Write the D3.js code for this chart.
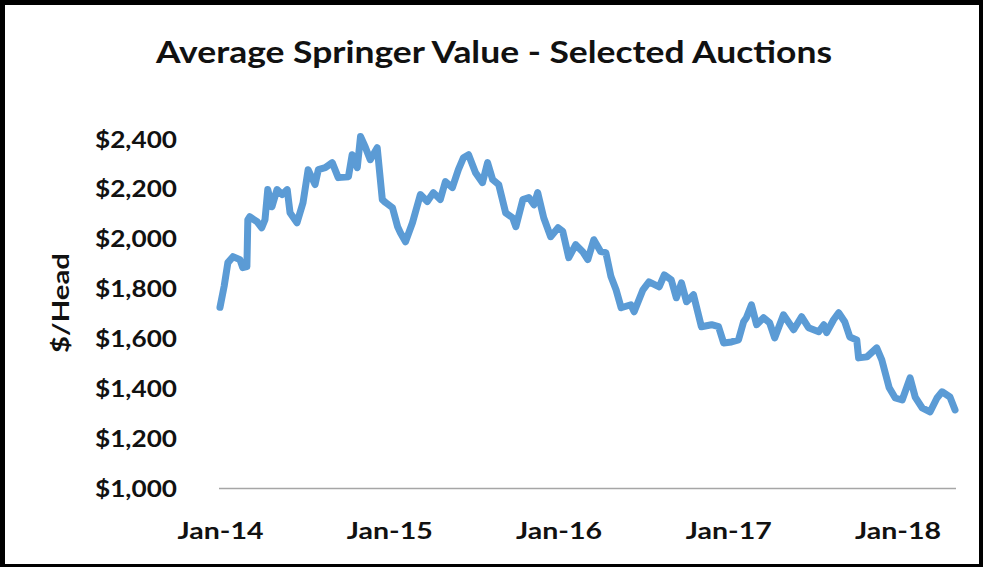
<!DOCTYPE html>
<html>
<head>
<meta charset="utf-8">
<script src="https://cdn.jsdelivr.net/npm/d3@7"></script>
<style>
  html, body { margin: 0; padding: 0; background: #fff; }
  svg { display: block; }
  text { font-family: Lato, "Open Sans", sans-serif; font-weight: bold; fill: #111; }
</style>
</head>
<body>
<script>
// ---------- DATA ----------
const title = "Average Springer Value - Selected Auctions";
const yAxisTitle = "$/Head";
const yTicks = [1000, 1200, 1400, 1600, 1800, 2000, 2200, 2400];
const xTickLabels = ["Jan-14", "Jan-15", "Jan-16", "Jan-17", "Jan-18"];
const xTickDates = ["2014-01-01", "2015-01-01", "2016-01-01", "2017-01-01", "2018-01-01"];

const dates = [
  "2014-01-01","2014-01-10","2014-01-18","2014-01-29","2014-02-13","2014-02-19","2014-02-28","2014-03-02","2014-03-06","2014-03-22",
  "2014-04-01","2014-04-08","2014-04-14","2014-04-23","2014-05-04","2014-05-15","2014-05-26","2014-06-01","2014-06-16","2014-06-29",
  "2014-07-10","2014-07-25","2014-08-01","2014-08-16","2014-08-31","2014-09-13","2014-10-05","2014-10-13","2014-10-24","2014-10-31",
  "2014-11-10","2014-11-21","2014-12-06","2014-12-17","2014-12-24","2015-01-08","2015-01-19","2015-01-25","2015-02-05","2015-02-20",
  "2015-03-09","2015-03-24","2015-04-06","2015-04-21","2015-05-02","2015-05-17","2015-05-30","2015-06-10","2015-06-21","2015-07-06",
  "2015-07-21","2015-08-01","2015-08-12","2015-08-25","2015-09-09","2015-09-24","2015-10-01","2015-10-16","2015-10-29","2015-11-09",
  "2015-11-17","2015-11-30","2015-12-15","2015-12-31","2016-01-10","2016-01-23","2016-02-07","2016-02-22","2016-03-04","2016-03-17",
  "2016-04-01","2016-04-12","2016-04-23","2016-05-04","2016-05-15","2016-06-05","2016-06-12","2016-07-01","2016-07-14","2016-08-05",
  "2016-08-16","2016-08-31","2016-09-11","2016-09-22","2016-10-03","2016-10-18","2016-11-04","2016-11-26","2016-12-11","2016-12-22",
  "2017-01-08","2017-01-23","2017-02-03","2017-02-09","2017-02-20","2017-03-03","2017-03-18","2017-03-31","2017-04-11","2017-04-30",
  "2017-05-22","2017-06-08","2017-06-23","2017-07-15","2017-07-26","2017-08-01","2017-08-16","2017-08-27","2017-09-09","2017-09-20",
  "2017-10-05","2017-10-09","2017-10-27","2017-11-17","2017-11-28","2017-12-14","2017-12-27","2018-01-11","2018-01-28","2018-02-08",
  "2018-02-23","2018-03-12","2018-03-27","2018-04-07","2018-04-24","2018-05-05"
];
const values = [
  1725,1810,1904,1928,1916,1884,1888,2076,2088,2068,
  2044,2076,2197,2128,2197,2177,2197,2104,2064,2144,
  2277,2217,2277,2285,2305,2245,2249,2337,2285,2410,
  2369,2317,2365,2157,2145,2124,2048,2024,1988,2064,
  2177,2149,2185,2157,2229,2205,2277,2325,2337,2265,
  2225,2305,2237,2217,2104,2084,2048,2157,2165,2136,
  2185,2084,2008,2044,2030,1924,1976,1948,1916,1996,
  1948,1944,1848,1795,1723,1735,1707,1795,1827,1807,
  1855,1835,1763,1823,1747,1775,1647,1655,1647,1582,
  1586,1594,1667,1683,1735,1655,1683,1663,1602,1695,
  1635,1687,1643,1627,1655,1623,1675,1703,1667,1606,
  1594,1522,1526,1562,1514,1402,1361,1353,1442,1365,
  1321,1305,1361,1386,1365,1313
];

// ---------- LAYOUT ----------
const W = 983, H = 567;
const parse = d3.utcParse("%Y-%m-%d");
const series = dates.map((d, i) => ({ date: parse(d), value: values[i] }));

const svg = d3.select("body").append("svg").attr("width", W).attr("height", H);
svg.append("rect").attr("width", W).attr("height", H).attr("fill", "#fff");

const x = d3.scaleUtc()
  .domain([parse("2014-01-01"), parse("2018-05-07")])
  .range([220, 956]);
const y = d3.scaleLinear().domain([1000, 2400]).range([488, 139]);

function stretch(sel, target) {
  sel.each(function () {
    const w = this.getComputedTextLength();
    if (w > 0) d3.select(this).attr("textLength", target).attr("lengthAdjust", "spacingAndGlyphs");
  });
}

// Title
svg.append("text")
  .attr("x", 494).attr("y", 63)
  .attr("text-anchor", "middle")
  .style("font-size", "31px")
  .text(title)
  .call(stretch, 676);

// Y axis (labels only)
const fmt = v => "$" + d3.format(",")(v);
const yAxis = d3.axisLeft(y).tickValues(yTicks).tickFormat(fmt).tickSize(0).tickPadding(0);
const gy = svg.append("g").attr("transform", "translate(177,0)").call(yAxis);
gy.select(".domain").remove();
gy.selectAll("text")
  .attr("dy", null).attr("y", -1).attr("x", 0)
  .attr("dominant-baseline", "central")
  .attr("fill", "#111")
  .style("font-size", "23px")
  .style("font-family", "Lato, 'Open Sans', sans-serif")
  .call(stretch, 82);

// Y title
svg.append("text")
  .attr("transform", "translate(60,303) rotate(-90)")
  .attr("text-anchor", "middle")
  .attr("dominant-baseline", "central")
  .style("font-size", "23px")
  .text(yAxisTitle)
  .call(stretch, 100);

// X axis
const xAxis = d3.axisBottom(x)
  .tickValues(xTickDates.map(parse))
  .tickFormat((d, i) => xTickLabels[i])
  .tickSize(0).tickPadding(0);
const gx = svg.append("g").attr("transform", "translate(0,488)").call(xAxis);
gx.select(".domain")
  .attr("d", `M${219},0.5H${956}`)
  .attr("stroke", "#a6a6a6").attr("stroke-width", 1.5);
gx.selectAll("text")
  .attr("y", 42).attr("dy", null)
  .attr("dominant-baseline", "central")
  .attr("fill", "#111")
  .style("font-size", "23px")
  .style("font-family", "Lato, 'Open Sans', sans-serif")
  .call(stretch, 86);

// Line
const line = d3.line().x(d => x(d.date)).y(d => y(d.value));
svg.append("path")
  .datum(series)
  .attr("d", line)
  .attr("fill", "none")
  .attr("stroke", "#5b9bd5")
  .attr("stroke-width", 7)
  .attr("stroke-linejoin", "round")
  .attr("stroke-linecap", "round");

// Frame
svg.append("rect").attr("x", 0).attr("y", 0).attr("width", W).attr("height", 5).attr("fill", "#000");
svg.append("rect").attr("x", 0).attr("y", 0).attr("width", 5).attr("height", H).attr("fill", "#000");
svg.append("rect").attr("x", W - 4).attr("y", 0).attr("width", 4).attr("height", H).attr("fill", "#000");
svg.append("rect").attr("x", 0).attr("y", H - 3).attr("width", W).attr("height", 3).attr("fill", "#000");
</script>
</body>
</html>
